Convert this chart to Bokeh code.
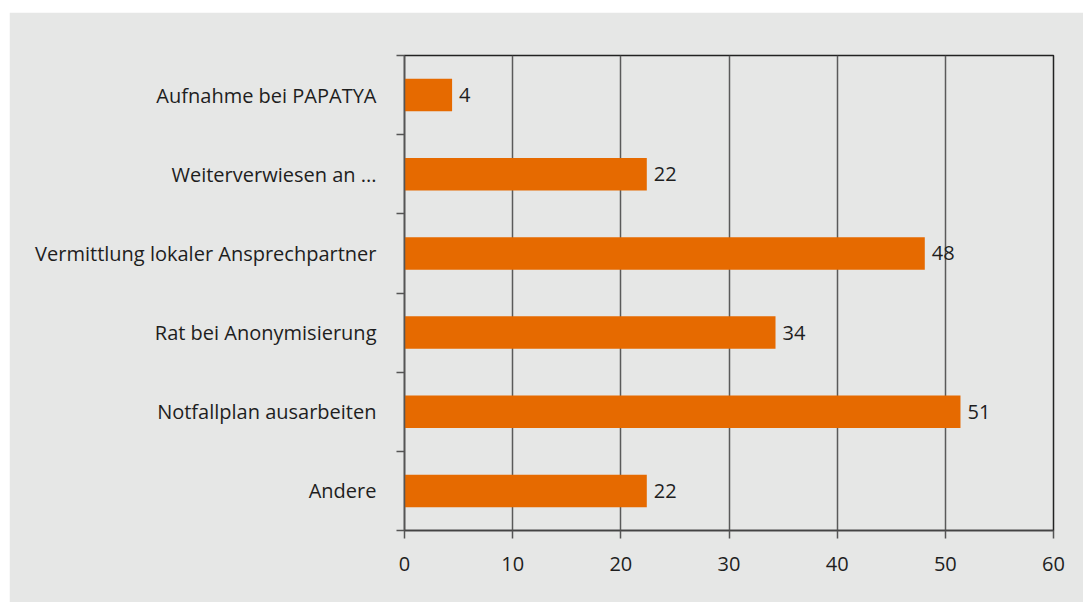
from bokeh.plotting import figure
from bokeh.models import Range1d, FixedTicker, ColumnDataSource, Spacer
from bokeh.layouts import column, row
from bokeh.core.properties import value
from bokeh.embed import file_html
from bokeh.resources import INLINE

categories = ["Aufnahme bei PAPATYA", "Weiterverwiesen an ...", "Vermittlung lokaler Ansprechpartner",
              "Rat bei Anonymisierung", "Notfallplan ausarbeiten", "Andere"]
values = [4.4, 22.4, 48.1, 34.3, 51.4, 22.4]
value_labels = ["4", "22", "48", "34", "51", "22"]
x_ticks = [0, 10, 20, 30, 40, 50, 60]

FONT = "Open Sans"
BG = "#e6e7e6"
BAR = "#e66a00"
TXT = "#1e1e1e"

positions = [i + 0.5 for i in range(len(categories))]
boundaries = [i for i in range(len(categories) + 1)]

src = ColumnDataSource(dict(y=positions, v=values, lab=value_labels, cat=categories))

p = figure(width=1074, height=590, output_backend="svg", toolbar_location=None,
           x_range=Range1d(0, 60), y_range=Range1d(len(categories), 0),
           min_border_left=395, min_border_right=30, min_border_top=43, min_border_bottom=72)
p.background_fill_color = BG
p.border_fill_color = BG
p.outline_line_color = "#222222"
p.outline_line_width = 1.5

p.hbar(y="y", right="v", left=0, height=0.41, source=src, fill_color=BAR, line_color=None)
p.text(x="v", y="y", text="lab", source=src, x_offset=7, text_align="left", text_baseline="middle",
       text_font=value(FONT), text_font_size="20px", text_color=TXT)

# x axis
p.xaxis.ticker = FixedTicker(ticks=x_ticks)
p.xaxis.major_tick_out = 8
p.xaxis.major_tick_in = 0
p.xaxis.minor_tick_out = 0
p.xaxis.minor_tick_in = 0
p.xaxis.axis_line_color = "#444444"
p.xaxis.axis_line_width = 1.5
p.xaxis.major_tick_line_color = "#555555"
p.xaxis.major_tick_line_width = 1.5
p.xaxis.major_label_text_font = FONT
p.xaxis.major_label_text_font_size = "20px"
p.xaxis.major_label_text_color = TXT
p.xaxis.major_label_standoff = 18

# y axis
p.yaxis.ticker = FixedTicker(ticks=positions, minor_ticks=boundaries)
p.yaxis.major_label_overrides = {pos: c for pos, c in zip(positions, categories)}
p.yaxis.major_tick_out = 0
p.yaxis.major_tick_in = 0
p.yaxis.minor_tick_out = 8
p.yaxis.minor_tick_in = 0
p.yaxis.minor_tick_line_color = "#555555"
p.yaxis.minor_tick_line_width = 1.5
p.yaxis.axis_line_color = "#555555"
p.yaxis.axis_line_width = 1.5
p.yaxis.major_label_text_font = FONT
p.yaxis.major_label_text_font_size = "20px"
p.yaxis.major_label_text_color = TXT
p.yaxis.major_label_standoff = 20

p.xgrid.ticker = FixedTicker(ticks=x_ticks[1:-1])
p.xgrid.grid_line_color = "#5a5a5a"
p.xgrid.grid_line_width = 1.5
p.ygrid.grid_line_color = None

layout = row(Spacer(width=9, height=602), column(Spacer(width=1074, height=12), p))
open("out.html", "w").write(file_html(layout, INLINE))
